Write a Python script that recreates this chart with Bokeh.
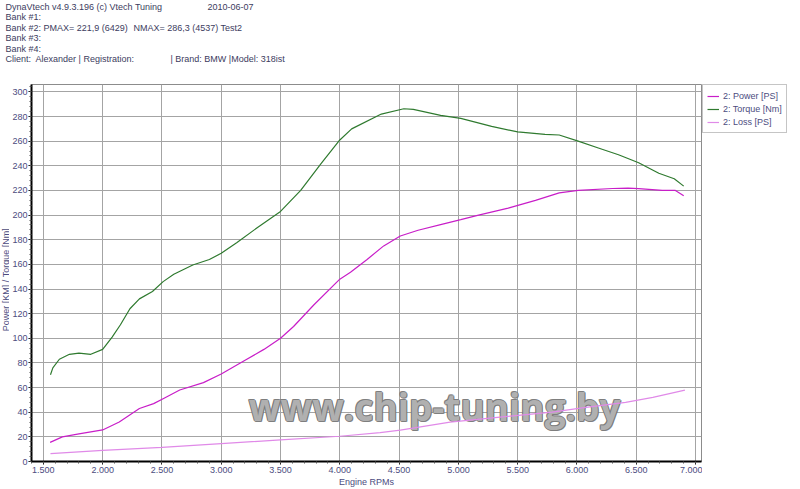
from bokeh.plotting import figure
from bokeh.models import Range1d, FixedTicker, Legend, LegendItem, Label
from bokeh.layouts import column, row
from bokeh.embed import file_html
from bokeh.resources import INLINE
import math

# ---------------- data ----------------
torque_rpm = [1560, 1580, 1635, 1720, 1800, 1900, 2000, 2080, 2150, 2230, 2310, 2420,
              2510, 2600, 2760, 2900, 3000, 3130, 3300, 3500, 3670, 3840, 4000, 4100,
              4350, 4540, 4620, 4850, 5020, 5280, 5500, 5730, 5850, 6010, 6180, 6350,
              6520, 6690, 6820, 6900]
torque_nm = [70.4, 76, 83, 87, 88, 87, 91, 101, 111, 124, 132, 138,
             146, 152, 159.5, 164, 169, 177.5, 189.5, 203, 220, 241.5, 261, 270,
             282, 286.3, 285.8, 281, 278.5, 272, 267.5, 265.5, 265, 260, 254.5, 249,
             242.5, 234, 229.5, 223.5]

power_rpm = [1557, 1660, 1800, 2000, 2140, 2310, 2430, 2510, 2650, 2850, 3000, 3190,
             3360, 3500, 3610, 3780, 4000, 4090, 4230, 4370, 4510, 4660, 4850, 5020,
             5170, 5420, 5650, 5850, 6010, 6300, 6430, 6520, 6720, 6830, 6900]
power_ps = [15.5, 20, 22.4, 25.6, 32, 43, 47, 51, 58, 64, 71, 81.6,
            91, 100, 109.6, 127, 148, 153.6, 164, 175, 183, 187.7, 192.3, 196.3,
            200, 205.6, 212, 218, 220, 221.6, 221.9, 221.5, 220, 220, 215.7]

loss_rpm = [1560, 2000, 2500, 3000, 3500, 4000, 4340, 4510, 4930, 5350, 5790, 6060,
            6410, 6640, 6910]
loss_ps = [6.4, 9, 11.5, 14.5, 17.5, 20.5, 23.5, 25.5, 32, 36, 40, 43.7,
           48, 52, 58]

x_ticks = [1500, 2000, 2500, 3000, 3500, 4000, 4500, 5000, 5500, 6000, 6500, 7000]
x_tick_labels = ["1.500", "2.000", "2.500", "3.000", "3.500", "4.000", "4.500",
                 "5.000", "5.500", "6.000", "6.500", "7.000"]
y_ticks = list(range(0, 301, 20))

series_names = ["2: Power [PS]", "2: Torque [Nm]", "2: Loss [PS]"]
x_title = "Engine RPMs"
y_title = "Power [KM] / Torque [Nm]"

header_lines = [
    "DynaVtech v4.9.3.196 (c) Vtech Tuning",
    "Bank #1:",
    "Bank #2: PMAX= 221,9 (6429)",
    "Bank #3:",
    "Bank #4:",
    "Client:\u00a0 Alexander | Registration:",
]
# (line index, text) for the extra texts on the header lines
header_extra = [
    (0, "2010-06-07"),
    (2, "NMAX= 286,3 (4537)"),
    (2, "Test2"),
    (5, "| Brand: BMW |Model: 318ist"),
]

watermark = "www.chip-tuning.by"

# ---------------- layout / styling ----------------
FONT = "Liberation Sans"
TXT = "#3c3c5e"
AX = "#4c4c80"
GRID = "#a4a4a4"
C_POWER = "#c81ec8"
C_TORQUE = "#2f7a2f"
C_LOSS = "#e08ae8"

TOTAL_W, TOTAL_H = 799, 489
HEAD_H = 64
YLAB_W = 9
MAIN_W = 693
LEG_W = TOTAL_W - YLAB_W - MAIN_W
BODY_H = TOTAL_H - HEAD_H

HEAD_X = 5
HEAD_Y = [6, 16.5, 27, 37.5, 48, 58.5]
HEAD_EXTRA_X = [207, 133, 220, 170]

def blank_fig(w, h, xr, yr, **kw):
    return figure(width=w, height=h, x_range=xr, y_range=yr, x_axis_type=None,
                  y_axis_type=None, title=None, min_border=0, outline_line_color=None,
                  output_backend="svg", toolbar_location=None, **kw)

# header strip
head = blank_fig(TOTAL_W, HEAD_H, Range1d(0, TOTAL_W), Range1d(HEAD_H, 0))
for i, line in enumerate(header_lines):
    head.add_layout(Label(x=HEAD_X, y=HEAD_Y[i], text=line, text_font=FONT,
                          text_font_size="9px", text_color=TXT,
                          text_baseline="middle", text_align="left"))
for (i, txt), xx in zip(header_extra, HEAD_EXTRA_X):
    head.add_layout(Label(x=xx, y=HEAD_Y[i], text=txt, text_font=FONT,
                          text_font_size="9px", text_color=TXT,
                          text_baseline="middle", text_align="left"))

# y-axis title strip
ylab = blank_fig(YLAB_W, BODY_H, Range1d(0, YLAB_W), Range1d(BODY_H, 0))
ylab.add_layout(Label(x=5, y=220, text=y_title, angle=math.pi / 2, text_font=FONT,
                      text_font_size="9px", text_color=AX, text_align="center",
                      text_baseline="middle"))

# main chart
p = figure(width=MAIN_W, height=BODY_H, output_backend="svg", toolbar_location=None,
           title=None, x_range=Range1d(1400, 7050), y_range=Range1d(0, 306),
           min_border_top=0, min_border_right=1, min_border_left=0,
           min_border_bottom=0, background_fill_color="white",
           border_fill_color="white", outline_line_color="#8c8c8c")

p.xaxis.ticker = FixedTicker(ticks=x_ticks, minor_ticks=list(range(1400, 7051, 100)))
p.yaxis.ticker = FixedTicker(ticks=y_ticks, minor_ticks=list(range(0, 306, 4)))
p.xaxis.major_label_overrides = dict(zip(x_ticks, x_tick_labels))
p.xgrid.ticker = FixedTicker(ticks=x_ticks)
p.ygrid.ticker = FixedTicker(ticks=y_ticks)
p.grid.grid_line_color = GRID
p.grid.grid_line_width = 1

for ax in (p.xaxis[0], p.yaxis[0]):
    ax.axis_line_color = "black"
    ax.axis_line_width = 2
    ax.major_tick_line_color = "black"
    ax.minor_tick_line_color = "#555555"
    ax.major_tick_out = 3
    ax.major_tick_in = 0
    ax.minor_tick_out = 2
    ax.minor_tick_in = 0
    ax.major_label_text_font = FONT
    ax.major_label_text_font_size = "9px"
    ax.major_label_text_color = AX
    ax.major_label_standoff = 2
    ax.axis_label_text_font = FONT
    ax.axis_label_text_font_size = "9px"
    ax.axis_label_text_color = AX
    ax.axis_label_text_font_style = "normal"
    ax.axis_label_standoff = 1
p.yaxis.major_label_standoff = 1

p.xaxis.axis_label = x_title

# watermark (behind the curves)
wm_kwargs = dict(x=4800, y=45, text=watermark, text_font="Open Sans",
                 text_font_size="37px", text_font_style="bold",
                 text_align="center", text_baseline="alphabetic", level="underlay")
for dx, dy in [(-1, 0), (1, 0), (0, -1), (0, 1), (1, -1), (-1, 1)]:
    p.add_layout(Label(x_offset=dx, y_offset=dy, text_color="#787878",
                       text_alpha=0.8, **wm_kwargs))
p.add_layout(Label(text_color="#b8b8b8", text_alpha=0.9, **wm_kwargs))

p.line(power_rpm, power_ps, line_color=C_POWER, line_width=1.2)
p.line(torque_rpm, torque_nm, line_color=C_TORQUE, line_width=1.2)
p.line(loss_rpm, loss_ps, line_color=C_LOSS, line_width=1.2)

# legend strip to the right of the chart (its lines lie outside its view,
# only their legend glyphs are seen)
leg = blank_fig(LEG_W, BODY_H, Range1d(0, 1), Range1d(0, 1), min_border_top=20)
lr = [leg.line(power_rpm, power_ps, line_color=C_POWER, line_width=1.2),
      leg.line(torque_rpm, torque_nm, line_color=C_TORQUE, line_width=1.2),
      leg.line(loss_rpm, loss_ps, line_color=C_LOSS, line_width=1.2)]
legend = Legend(items=[LegendItem(label=n, renderers=[r]) for n, r in zip(series_names, lr)],
                location="top_left", margin=0, padding=4, spacing=0,
                label_text_font=FONT, label_text_font_size="9px",
                label_text_color=AX, label_height=13, label_standoff=4,
                glyph_width=12, glyph_height=10,
                border_line_color="#8c8c8c", border_line_width=1,
                background_fill_color="white")
leg.add_layout(legend, "center")

layout = column(head, row(ylab, p, leg))
open("out.html", "w").write(file_html(layout, INLINE))
